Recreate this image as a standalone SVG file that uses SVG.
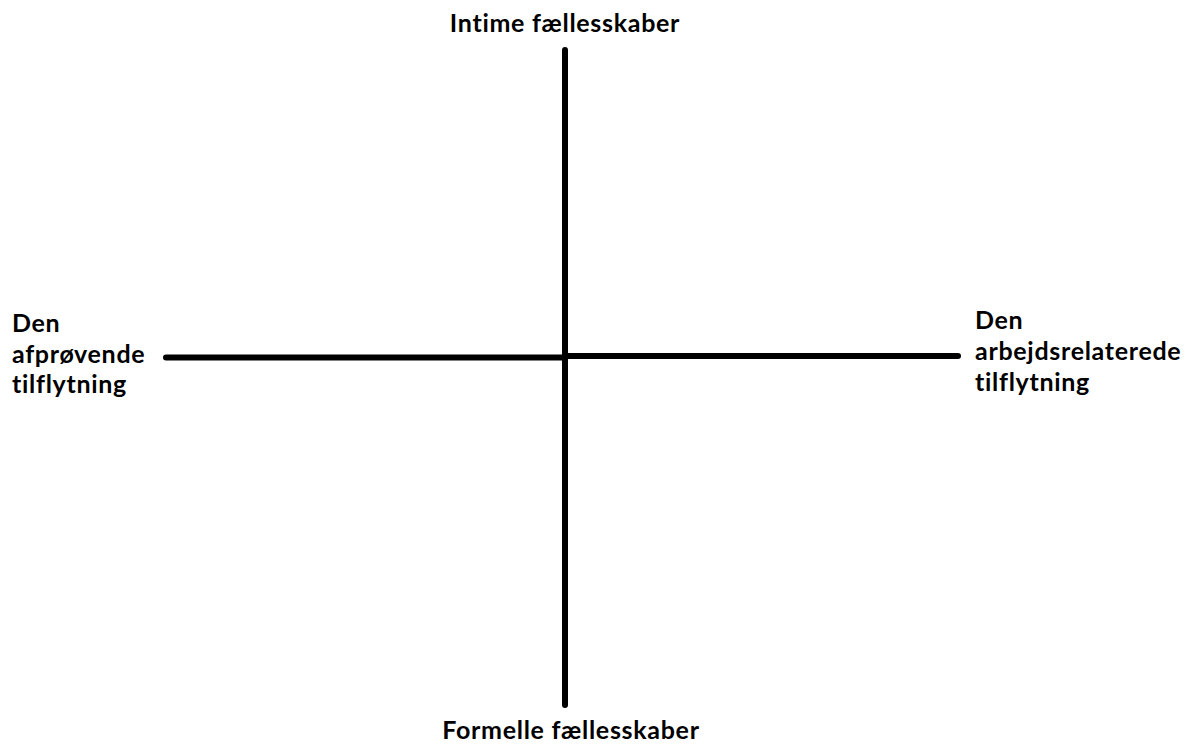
<svg xmlns="http://www.w3.org/2000/svg" width="1189" height="745" viewBox="0 0 1189 745">
<style>
text{font-family:Lato,"Open Sans","Liberation Sans",sans-serif;font-weight:bold;font-size:25px;letter-spacing:0.7px;fill:#000}
.ax{stroke:#000;stroke-width:6;stroke-linecap:round;fill:none}
</style>
<rect width="1189" height="745" fill="#fff"/>
<g id="connectors">
<line class="ax" x1="565" y1="50" x2="565" y2="705"/>
<line class="ax" x1="166" y1="357.5" x2="565" y2="357.5"/>
<line class="ax" x1="565" y1="356" x2="958" y2="356"/>
</g>
<g id="top"><text x="565" y="32" text-anchor="middle">Intime fællesskaber</text></g>
<g id="bottom"><text x="571" y="739" text-anchor="middle">Formelle fællesskaber</text></g>
<g id="left"><text x="12" y="332">Den</text><text x="12" y="363">afprøvende</text><text x="12" y="393">tilflytning</text></g>
<g id="right"><text x="975" y="329">Den</text><text x="975" y="360">arbejdsrelaterede</text><text x="975" y="391">tilflytning</text></g>
</svg>
